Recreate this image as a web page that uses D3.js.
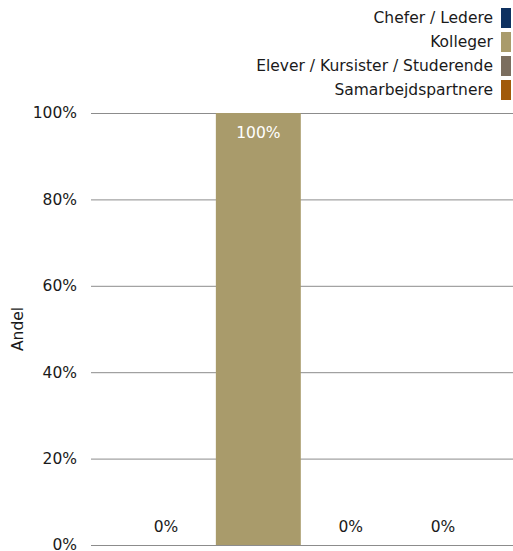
<!DOCTYPE html>
<html><head><meta charset="utf-8">
<script src="https://cdn.jsdelivr.net/npm/d3@7"></script>
<style>body{margin:0;background:#fff}svg{display:block}text{font-family:"DejaVu Sans",Verdana,sans-serif}</style>
</head><body>
<script>
const series = ["Chefer / Ledere","Kolleger","Elever / Kursister / Studerende","Samarbejdspartnere"];
const values = [0, 100, 0, 0];
const colors = ["#0e3160","#a99b6b","#7b6e5f","#a15a0a"];
const yTicks = [0,20,40,60,80,100];

const W=513,H=551,FS=15.5;
const svg=d3.select("body").append("svg").attr("width",W).attr("height",H);
const y=d3.scaleLinear().domain([0,100]).range([545,113]);
const x=d3.scaleBand().domain(series).range([123.5,485.5]).paddingInner(0.08).paddingOuter(0);

svg.append("g").selectAll("line").data(yTicks).join("line")
 .attr("x1",91).attr("x2",513).attr("y1",d=>y(d)+0.5).attr("y2",d=>y(d)+0.5)
 .attr("stroke","#8c8c8c").attr("stroke-width",1);
svg.append("g").selectAll("text").data(yTicks).join("text")
 .attr("x",77).attr("y",d=>y(d)).attr("dy","0.35em").attr("text-anchor","end")
 .attr("font-size",FS).attr("fill","#1a1a1a").text(d=>d+"%");

svg.append("text").attr("transform","translate(23,329) rotate(-90)").attr("text-anchor","middle")
 .attr("font-size",FS).attr("fill","#1a1a1a").text("Andel");

const data=series.map((s,i)=>({s,v:values[i],c:colors[i]}));
svg.append("g").selectAll("rect").data(data).join("rect")
 .attr("x",d=>x(d.s)).attr("width",x.bandwidth()).attr("y",d=>y(d.v)).attr("height",d=>y(0)-y(d.v)).attr("fill",d=>d.c);
svg.append("g").selectAll("text").data(data).join("text")
 .attr("x",d=>x(d.s)+x.bandwidth()/2)
 .attr("y",d=>d.v>10? y(d.v)+20 : y(d.v)-18)
 .attr("dy","0.35em").attr("text-anchor","middle").attr("font-size",FS)
 .attr("fill",d=>d.v>10?"#fff":"#1a1a1a").text(d=>d.v+"%");

const lg=svg.append("g").selectAll("g").data(data).join("g").attr("transform",(d,i)=>`translate(0,${8+i*24})`);
lg.append("rect").attr("x",501).attr("y",0).attr("width",10).attr("height",20).attr("fill",d=>d.c);
lg.append("text").attr("x",493).attr("y",10).attr("dy","0.35em").attr("text-anchor","end").attr("font-size",FS).attr("fill","#1a1a1a").text(d=>d.s);
</script>
</body></html>
